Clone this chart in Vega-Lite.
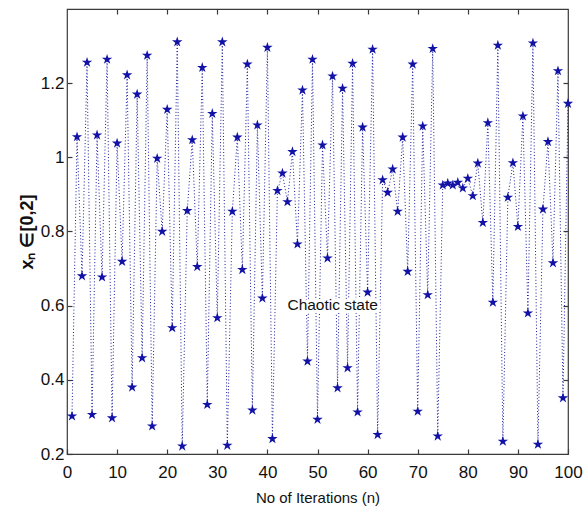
{
  "$schema": "https://vega.github.io/schema/vega-lite/v6.json",
  "width": 501,
  "height": 445,
  "autosize": "none",
  "padding": {"left": 67, "top": 9, "right": 17, "bottom": 57},
  "background": "white",
  "config": {
    "view": {"stroke": "#3a3a3a", "strokeWidth": 1.2},
    "axis": {"grid": false, "domain": false, "labelFont": "Liberation Sans", "titleFont": "Liberation Sans", "labelColor": "#111111", "titleColor": "#111111", "tickColor": "#3a3a3a", "tickWidth": 1.2}
  },
  "datasets": {
    "series": [
      {"n": 1, "x": 0.302}, {"n": 2, "x": 1.055}, {"n": 3, "x": 0.680}, {"n": 4, "x": 1.256}, {"n": 5, "x": 0.306},
      {"n": 6, "x": 1.060}, {"n": 7, "x": 0.677}, {"n": 8, "x": 1.264}, {"n": 9, "x": 0.297}, {"n": 10, "x": 1.038},
      {"n": 11, "x": 0.719}, {"n": 12, "x": 1.222}, {"n": 13, "x": 0.380}, {"n": 14, "x": 1.170}, {"n": 15, "x": 0.459},
      {"n": 16, "x": 1.275}, {"n": 17, "x": 0.275}, {"n": 18, "x": 0.997}, {"n": 19, "x": 0.800}, {"n": 20, "x": 1.129},
      {"n": 21, "x": 0.540}, {"n": 22, "x": 1.311}, {"n": 23, "x": 0.221}, {"n": 24, "x": 0.856}, {"n": 25, "x": 1.047},
      {"n": 26, "x": 0.705}, {"n": 27, "x": 1.242}, {"n": 28, "x": 0.333}, {"n": 29, "x": 1.118}, {"n": 30, "x": 0.567},
      {"n": 31, "x": 1.311}, {"n": 32, "x": 0.223}, {"n": 33, "x": 0.854}, {"n": 34, "x": 1.054}, {"n": 35, "x": 0.697},
      {"n": 36, "x": 1.251}, {"n": 37, "x": 0.318}, {"n": 38, "x": 1.087}, {"n": 39, "x": 0.620}, {"n": 40, "x": 1.296},
      {"n": 41, "x": 0.241}, {"n": 42, "x": 0.910}, {"n": 43, "x": 0.957}, {"n": 44, "x": 0.880}, {"n": 45, "x": 1.015},
      {"n": 46, "x": 0.766}, {"n": 47, "x": 1.181}, {"n": 48, "x": 0.450}, {"n": 49, "x": 1.264}, {"n": 50, "x": 0.293},
      {"n": 51, "x": 1.033}, {"n": 52, "x": 0.728}, {"n": 53, "x": 1.219}, {"n": 54, "x": 0.378}, {"n": 55, "x": 1.186},
      {"n": 56, "x": 0.432}, {"n": 57, "x": 1.253}, {"n": 58, "x": 0.313}, {"n": 59, "x": 1.081}, {"n": 60, "x": 0.636},
      {"n": 61, "x": 1.291}, {"n": 62, "x": 0.252}, {"n": 63, "x": 0.939}, {"n": 64, "x": 0.905}, {"n": 65, "x": 0.968},
      {"n": 66, "x": 0.854}, {"n": 67, "x": 1.054}, {"n": 68, "x": 0.692}, {"n": 69, "x": 1.251}, {"n": 70, "x": 0.315},
      {"n": 71, "x": 1.084}, {"n": 72, "x": 0.629}, {"n": 73, "x": 1.293}, {"n": 74, "x": 0.248}, {"n": 75, "x": 0.925},
      {"n": 76, "x": 0.930}, {"n": 77, "x": 0.925}, {"n": 78, "x": 0.932}, {"n": 79, "x": 0.917}, {"n": 80, "x": 0.943},
      {"n": 81, "x": 0.896}, {"n": 82, "x": 0.984}, {"n": 83, "x": 0.824}, {"n": 84, "x": 1.093}, {"n": 85, "x": 0.609},
      {"n": 86, "x": 1.302}, {"n": 87, "x": 0.234}, {"n": 88, "x": 0.892}, {"n": 89, "x": 0.985}, {"n": 90, "x": 0.813},
      {"n": 91, "x": 1.111}, {"n": 92, "x": 0.580}, {"n": 93, "x": 1.308}, {"n": 94, "x": 0.226}, {"n": 95, "x": 0.860},
      {"n": 96, "x": 1.042}, {"n": 97, "x": 0.715}, {"n": 98, "x": 1.233}, {"n": 99, "x": 0.351}, {"n": 100, "x": 1.145}
    ],
    "note": [{"n": 44, "x": 0.602, "label": "Chaotic state"}]
  },
  "layer": [
    {
      "data": {"name": "series"},
      "mark": {"type": "line", "color": "#1a1a9a", "strokeWidth": 1, "strokeDash": [1, 2.2]},
      "encoding": {
        "x": {"field": "n", "type": "quantitative", "scale": {"domain": [0, 100], "nice": false},
          "axis": {"orient": "bottom", "values": [0, 10, 20, 30, 40, 50, 60, 70, 80, 90, 100], "tickSize": -5, "labelPadding": 15, "labelFontSize": 17, "labelFlush": false,
            "title": "No of Iterations (n)", "titleFontSize": 15, "titleFontWeight": "normal", "titleX": 250.5, "titleY": 43, "titleBaseline": "middle", "titleAlign": "center"}},
        "y": {"field": "x", "type": "quantitative", "scale": {"domain": [0.2, 1.4], "nice": false, "zero": false},
          "axis": {"orient": "left", "values": [0.2, 0.4, 0.6, 0.8, 1, 1.2], "labelExpr": "'' + datum.value", "tickSize": -5, "labelPadding": 8, "labelFontSize": 17, "labelFlush": false,
            "title": "xₙ ∈[0,2]", "titleFontSize": 18, "titleFontWeight": "bold", "titleAngle": -90, "titleX": -40, "titleY": 222.5, "titleBaseline": "middle", "titleAlign": "center"}}
      }
    },
    {
      "data": {"name": "series"},
      "mark": {"type": "point", "shape": "M0,-1L0.2245,-0.309L0.951,-0.309L0.363,0.118L0.588,0.809L0,0.382L-0.588,0.809L-0.363,0.118L-0.951,-0.309L-0.2245,-0.309Z", "filled": true, "size": 120, "color": "#1212a6", "opacity": 1},
      "encoding": {
        "x": {"field": "n", "type": "quantitative", "axis": {"orient": "top", "values": [10, 20, 30, 40, 50, 60, 70, 80, 90], "tickSize": -5, "labels": false, "title": null}},
        "y": {"field": "x", "type": "quantitative", "axis": {"orient": "right", "values": [0.4, 0.6, 0.8, 1, 1.2], "tickSize": -5, "labels": false, "title": null}}
      }
    },
    {
      "data": {"name": "note"},
      "mark": {"type": "text", "align": "left", "baseline": "middle", "font": "Liberation Sans", "fontSize": 15.5, "fill": "white", "stroke": "white", "strokeWidth": 6},
      "encoding": {
        "x": {"field": "n", "type": "quantitative", "axis": null},
        "y": {"field": "x", "type": "quantitative", "axis": null},
        "text": {"field": "label"}
      }
    },
    {
      "data": {"name": "note"},
      "mark": {"type": "text", "align": "left", "baseline": "middle", "font": "Liberation Sans", "fontSize": 15.5, "color": "#111111"},
      "encoding": {
        "x": {"field": "n", "type": "quantitative", "axis": null},
        "y": {"field": "x", "type": "quantitative", "axis": null},
        "text": {"field": "label"}
      }
    }
  ],
  "resolve": {"axis": {"x": "independent", "y": "independent"}}
}
